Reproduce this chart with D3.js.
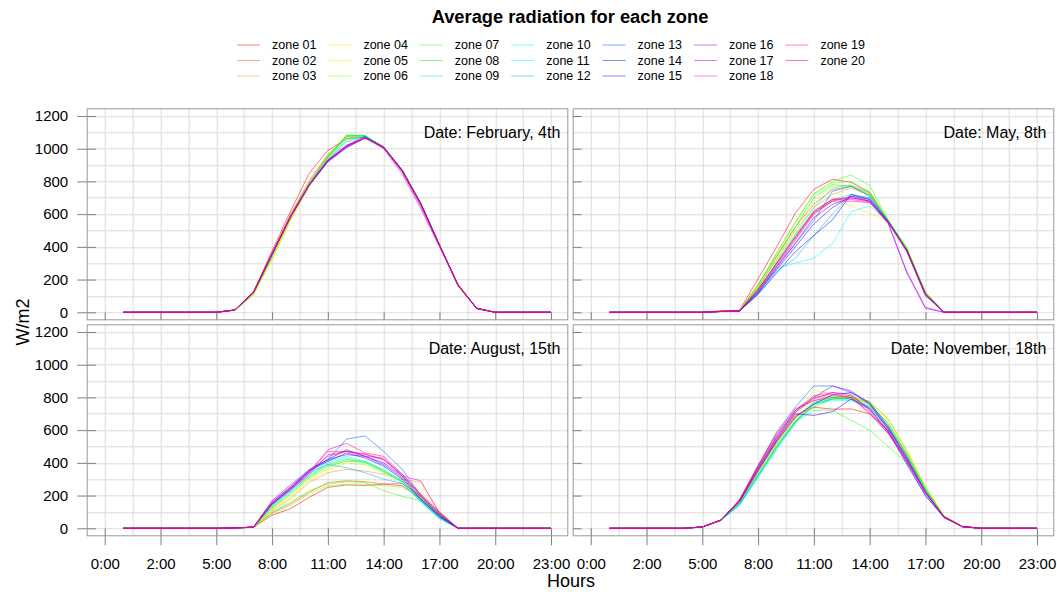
<!DOCTYPE html>
<html>
<head>
<meta charset="utf-8">
<script src="https://cdn.jsdelivr.net/npm/d3@7"></script>
<style>
  body { margin: 0; background: #fff; }
  svg { font-family: "Liberation Sans", Arial, Helvetica, sans-serif; }
</style>
</head>
<body>
<div id="chart"></div>
<script>
var svgWidth = 1057, svgHeight = 592;

var zones = ["zone 01","zone 02","zone 03","zone 04","zone 05","zone 06","zone 07","zone 08","zone 09","zone 10",
             "zone 11","zone 12","zone 13","zone 14","zone 15","zone 16","zone 17","zone 18","zone 19","zone 20"];

// rainbow palette, one hue per zone
var zoneColors = ["#FF0000","#FF4D00","#FF9900","#FFE500","#CCFF00","#80FF00","#33FF00","#00FF19","#00FF66","#00FFB2",
                  "#00FFFF","#00B3FF","#0066FF","#001AFF","#3300FF","#7F00FF","#CC00FF","#FF00E6","#FF0099","#FF004D"];

var hourLabels = ["0:00","2:00","5:00","8:00","11:00","14:00","17:00","20:00","23:00"];
var dateLabels = ["Date: February, 4th","Date: May, 8th","Date: August, 15th","Date: November, 18th"];

// hourly average radiation (W/m2), hours 0:00..23:00, one row per zone
var feb = [
  [0,0,0,0,0,0,15,125,375,620,850,990,1060,1072,1005,860,660,410,170,25,0,0,0,0],
  [0,0,0,0,0,0,14,122,360,600,805,965,1070,1075,1008,862,662,412,168,25,0,0,0,0],
  [0,0,0,0,0,0,13,112,330,565,790,960,1065,1072,1008,865,665,412,165,24,0,0,0,0],
  [0,0,0,0,0,0,12,108,322,560,775,945,1075,1078,1010,868,666,414,164,23,0,0,0,0],
  [0,0,0,0,0,0,12,110,320,570,770,940,1070,1076,1010,870,668,415,162,22,0,0,0,0],
  [0,0,0,0,0,0,12,108,335,575,780,950,1080,1080,1012,872,668,415,160,20,0,0,0,0],
  [0,0,0,0,0,0,13,115,345,590,790,955,1082,1080,1012,870,666,412,162,22,0,0,0,0],
  [0,0,0,0,0,0,14,118,350,595,792,950,1083,1081,1012,870,665,412,164,23,0,0,0,0],
  [0,0,0,0,0,0,14,118,352,592,785,945,1075,1080,1010,868,664,410,165,24,0,0,0,0],
  [0,0,0,0,0,0,14,120,355,590,782,940,1060,1080,1010,866,664,410,166,24,0,0,0,0],
  [0,0,0,0,0,0,14,120,352,588,780,935,1050,1078,1008,866,662,410,166,24,0,0,0,0],
  [0,0,0,0,0,0,14,120,350,585,778,930,1040,1076,1006,864,662,410,166,24,0,0,0,0],
  [0,0,0,0,0,0,14,120,352,585,778,925,1020,1075,1005,862,660,408,166,24,0,0,0,0],
  [0,0,0,0,0,0,14,121,355,585,776,922,1010,1068,1008,866,662,410,167,24,0,0,0,0],
  [0,0,0,0,0,0,14,121,356,584,776,920,1005,1066,1008,866,662,410,167,24,0,0,0,0],
  [0,0,0,0,0,0,14,122,358,586,778,925,1015,1068,1010,868,664,410,167,24,0,0,0,0],
  [0,0,0,0,0,0,14,122,358,586,778,925,1012,1066,1006,860,645,405,166,24,0,0,0,0],
  [0,0,0,0,0,0,14,122,360,588,780,928,1015,1065,1000,845,632,402,166,24,0,0,0,0],
  [0,0,0,0,0,0,14,122,360,588,780,930,1020,1068,1008,864,660,410,167,24,0,0,0,0],
  [0,0,0,0,0,0,14,123,362,590,782,932,1018,1068,1010,866,664,412,168,25,0,0,0,0]
];

var may = [
  [0,0,0,0,0,0,10,12,205,400,605,752,813,795,730,560,385,118,0,0,0,0,0,0],
  [0,0,0,0,0,0,8,10,170,345,520,660,750,770,720,558,388,122,0,0,0,0,0,0],
  [0,0,0,0,0,0,6,8,150,320,500,640,720,760,715,560,385,120,0,0,0,0,0,0],
  [0,0,0,0,0,0,5,8,140,300,470,600,680,650,605,555,380,110,0,0,0,0,0,0],
  [0,0,0,0,0,0,5,8,150,330,520,680,770,775,720,560,390,115,0,0,0,0,0,0],
  [0,0,0,0,0,0,5,8,160,360,545,720,790,800,740,562,390,118,0,0,0,0,0,0],
  [0,0,0,0,0,0,5,8,165,365,550,725,800,840,775,565,395,120,0,0,0,0,0,0],
  [0,0,0,0,0,0,5,8,150,340,520,700,780,770,735,560,385,115,0,0,0,0,0,0],
  [0,0,0,0,0,0,5,8,120,300,470,620,690,720,700,555,380,112,0,0,0,0,0,0],
  [0,0,0,0,0,0,5,8,130,310,480,640,760,780,720,556,380,110,0,0,0,0,0,0],
  [0,0,0,0,0,0,3,5,130,268,300,330,421,615,650,550,378,105,0,0,0,0,0,0],
  [0,0,0,0,0,0,5,8,110,250,330,470,600,720,700,555,380,108,0,0,0,0,0,0],
  [0,0,0,0,0,0,5,8,115,280,420,560,740,770,710,555,378,110,0,0,0,0,0,0],
  [0,0,0,0,0,0,5,8,110,240,370,470,565,720,690,555,380,110,0,0,0,0,0,0],
  [0,0,0,0,0,0,5,8,120,260,400,540,640,710,690,550,375,108,0,0,0,0,0,0],
  [0,0,0,0,0,0,5,8,125,270,420,580,660,700,680,545,240,24,0,0,0,0,0,0],
  [0,0,0,0,0,0,5,8,130,280,440,600,680,710,680,540,250,30,0,0,0,0,0,0],
  [0,0,0,0,0,0,5,8,140,300,460,620,690,690,675,548,370,100,0,0,0,0,0,0],
  [0,0,0,0,0,0,5,8,135,290,450,610,680,680,670,550,372,105,0,0,0,0,0,0],
  [0,0,0,0,0,0,5,8,140,300,460,610,690,700,680,552,378,110,0,0,0,0,0,0]
];

var aug = [
  [0,0,0,0,0,0,2,6,80,120,190,250,265,262,270,260,180,70,0,0,0,0,0,0],
  [0,0,0,0,0,0,2,6,95,150,220,280,290,285,270,275,195,80,0,0,0,0,0,0],
  [0,0,0,0,0,0,2,7,110,180,280,340,360,350,330,300,280,100,0,0,0,0,0,0],
  [0,0,0,0,0,0,2,7,120,200,300,370,420,400,350,280,200,90,0,0,0,0,0,0],
  [0,0,0,0,0,0,2,7,115,190,290,360,400,390,340,290,230,100,0,0,0,0,0,0],
  [0,0,0,0,0,0,2,6,90,140,210,260,270,270,260,250,190,80,0,0,0,0,0,0],
  [0,0,0,0,0,0,2,6,100,160,230,270,285,280,230,195,170,75,0,0,0,0,0,0],
  [0,0,0,0,0,0,2,7,125,210,310,380,410,405,360,285,180,80,0,0,0,0,0,0],
  [0,0,0,0,0,0,2,7,130,220,320,390,420,410,350,290,170,70,0,0,0,0,0,0],
  [0,0,0,0,0,0,2,7,135,225,320,400,430,400,345,285,165,65,0,0,0,0,0,0],
  [0,0,0,0,0,0,2,7,140,230,330,410,440,410,350,280,160,60,0,0,0,0,0,0],
  [0,0,0,0,0,0,2,7,145,235,340,390,370,340,300,275,165,60,0,0,0,0,0,0],
  [0,0,0,0,0,0,2,7,150,240,350,420,545,565,470,360,200,80,0,0,0,0,0,0],
  [0,0,0,0,0,0,2,7,150,245,350,410,460,430,380,300,175,70,0,0,0,0,0,0],
  [0,0,0,0,0,0,2,7,160,255,355,420,480,440,390,310,180,75,0,0,0,0,0,0],
  [0,0,0,0,0,0,2,7,170,265,360,420,450,440,400,320,190,85,0,0,0,0,0,0],
  [0,0,0,0,0,0,2,7,160,250,350,440,470,450,420,330,200,90,0,0,0,0,0,0],
  [0,0,0,0,0,0,2,7,155,245,345,470,470,440,430,320,290,90,0,0,0,0,0,0],
  [0,0,0,0,0,0,2,7,150,240,340,480,520,460,440,330,210,100,0,0,0,0,0,0],
  [0,0,0,0,0,0,2,7,145,235,330,450,470,455,420,320,200,95,0,0,0,0,0,0]
];

var nov = [
  [0,0,0,0,0,8,50,170,360,540,690,740,728,730,700,600,440,230,70,10,0,0,0,0],
  [0,0,0,0,0,8,50,165,350,530,680,760,790,800,740,620,450,240,72,10,0,0,0,0],
  [0,0,0,0,0,8,50,160,345,520,670,780,800,810,760,640,460,245,75,10,0,0,0,0],
  [0,0,0,0,0,8,50,165,360,550,700,845,820,800,770,670,470,255,78,11,0,0,0,0],
  [0,0,0,0,0,8,50,160,350,530,690,800,810,790,780,660,480,250,75,10,0,0,0,0],
  [0,0,0,0,0,8,48,150,330,510,660,760,790,810,770,670,475,250,70,10,0,0,0,0],
  [0,0,0,0,0,8,48,145,320,500,650,720,723,660,600,500,400,230,65,9,0,0,0,0],
  [0,0,0,0,0,8,48,150,330,505,655,740,790,800,760,640,450,240,68,10,0,0,0,0],
  [0,0,0,0,0,8,48,148,325,500,650,750,800,790,750,630,445,238,70,10,0,0,0,0],
  [0,0,0,0,0,8,48,145,320,495,645,760,790,785,740,620,440,235,70,10,0,0,0,0],
  [0,0,0,0,0,8,48,140,310,480,640,760,780,780,730,610,430,230,70,10,0,0,0,0],
  [0,0,0,0,0,8,48,145,320,490,650,770,800,790,740,610,430,230,70,10,0,0,0,0],
  [0,0,0,0,0,8,50,170,380,590,740,870,870,830,760,600,400,200,65,9,0,0,0,0],
  [0,0,0,0,0,8,50,160,350,530,680,760,815,830,770,620,430,220,68,10,0,0,0,0],
  [0,0,0,0,0,8,50,165,360,540,700,690,713,790,730,590,390,200,66,9,0,0,0,0],
  [0,0,0,0,0,8,50,170,370,560,720,800,870,840,760,610,420,220,70,10,0,0,0,0],
  [0,0,0,0,0,8,50,165,365,550,710,790,830,820,720,590,410,215,68,10,0,0,0,0],
  [0,0,0,0,0,8,50,170,370,560,710,800,820,800,710,580,410,215,68,10,0,0,0,0],
  [0,0,0,0,0,8,50,172,380,570,720,810,830,810,730,590,420,220,70,10,0,0,0,0],
  [0,0,0,0,0,8,50,175,385,580,730,780,810,800,700,580,415,220,70,10,0,0,0,0]
];

var panelW = 481.6, panelH = 212;
var panels = [
  {label: dateLabels[0], rows: feb, left: 86.7,  top: 108.3, col: 0, row: 0},
  {label: dateLabels[1], rows: may, left: 572.7, top: 108.3, col: 1, row: 0},
  {label: dateLabels[2], rows: aug, left: 86.7,  top: 324.3, col: 0, row: 1},
  {label: dateLabels[3], rows: nov, left: 572.7, top: 324.3, col: 1, row: 1}
];

// x = 1 is 0:00, x = 24 is 23:00
var x = d3.scaleLinear().domain([-0.97, 24.93]).range([0, panelW]);
var y = d3.scaleLinear().domain([-49, 1247]).range([panelH, 0]);

var line = d3.line()
    .x(function(d, i) { return x(i + 1); })
    .y(function(d) { return y(d); });

var svg = d3.select("#chart").append("svg")
    .attr("width", svgWidth)
    .attr("height", svgHeight);

svg.append("text")
    .attr("x", 570).attr("y", 23)
    .attr("text-anchor", "middle")
    .attr("font-size", 18.3)
    .attr("font-weight", "bold")
    .text("Average radiation for each zone");

// legend, 3 rows filled column by column
var legend = svg.append("g");
zones.forEach(function(z, i) {
    var tx = 272 + Math.floor(i / 3) * 91.4,
        ty = 45 + (i % 3) * 15.5;
    legend.append("line")
        .attr("x1", tx - 35).attr("x2", tx - 12)
        .attr("y1", ty).attr("y2", ty)
        .attr("stroke", zoneColors[i])
        .attr("stroke-opacity", 0.5);
    legend.append("text")
        .attr("x", tx).attr("y", ty)
        .attr("dy", "0.35em")
        .attr("font-size", 12.5)
        .text(z);
});

var tickColor = "#808080";

panels.forEach(function(p, k) {
    var g = svg.append("g").attr("transform", "translate(" + p.left + "," + p.top + ")");

    g.append("clipPath").attr("id", "clip" + k)
      .append("rect").attr("width", panelW).attr("height", panelH);

    var grid = g.append("g").attr("clip-path", "url(#clip" + k + ")");
    grid.selectAll(".vgrid")
        .data(d3.range(-1.5, 26, 1.5))
      .enter().append("line")
        .attr("x1", function(d) { return Math.round(x(d)) + 0.5; })
        .attr("x2", function(d) { return Math.round(x(d)) + 0.5; })
        .attr("y1", 0).attr("y2", panelH)
        .attr("stroke", "#b8b8b8")
        .attr("stroke-dasharray", "1,1");
    grid.selectAll(".hgrid")
        .data(d3.range(0, 1300, 100))
      .enter().append("line")
        .attr("y1", function(d) { return Math.round(y(d)) + 0.5; })
        .attr("y2", function(d) { return Math.round(y(d)) + 0.5; })
        .attr("x1", 0).attr("x2", panelW)
        .attr("stroke", "#b8b8b8")
        .attr("stroke-dasharray", "1,1");

    // y ticks: left column crosses the border and carries labels
    var yAxis = d3.axisLeft(y).tickValues(d3.range(0, 1201, 200)).tickFormat(d3.format("d"));
    var yg;
    if (p.col == 0) {
        yg = g.append("g").attr("transform", "translate(9.5,0)")
            .call(yAxis.tickSizeInner(19).tickSizeOuter(0).tickPadding(9));
    } else {
        yg = g.append("g").attr("transform", "translate(9,0)")
            .call(yAxis.tickSizeInner(9).tickSizeOuter(0).tickFormat(""));
    }

    // x ticks: bottom row crosses the border and carries labels
    var xAxis = d3.axisBottom(x).tickValues(d3.range(0, 25, 3));
    var xg;
    if (p.row == 1) {
        xg = g.append("g").attr("transform", "translate(0," + (panelH - 8) + ")")
            .call(xAxis.tickSizeInner(17).tickSizeOuter(0).tickPadding(13)
                .tickFormat(function(d, i) { return hourLabels[i]; }));
    } else {
        xg = g.append("g").attr("transform", "translate(0," + (panelH - 8) + ")")
            .call(xAxis.tickSizeInner(8).tickSizeOuter(0).tickFormat(""));
    }

    [yg, xg].forEach(function(a) {
        a.select(".domain").remove();
        a.selectAll("line").attr("stroke", tickColor);
        a.selectAll("text").attr("font-size", 15).attr("fill", "#000")
            .attr("font-family", "Liberation Sans, Arial, sans-serif");
    });

    g.append("g").attr("clip-path", "url(#clip" + k + ")")
      .selectAll("path")
        .data(p.rows)
      .enter().append("path")
        .attr("fill", "none")
        .attr("stroke", function(d, i) { return zoneColors[i]; })
        .attr("stroke-opacity", 0.55)
        .attr("stroke-width", 1)
        .attr("d", line);

    g.append("rect")
        .attr("x", 0.5).attr("y", 0.5)
        .attr("width", panelW - 1).attr("height", panelH - 1)
        .attr("fill", "none")
        .attr("stroke", "#999");

    g.append("text")
        .attr("x", panelW - 8).attr("y", 30)
        .attr("text-anchor", "end")
        .attr("font-size", 16)
        .text(p.label);
});

svg.append("text")
    .attr("transform", "translate(29,322) rotate(-90)")
    .attr("text-anchor", "middle")
    .attr("font-size", 18)
    .text("W/m2");

svg.append("text")
    .attr("x", 571).attr("y", 587)
    .attr("text-anchor", "middle")
    .attr("font-size", 18)
    .text("Hours");
</script>
</body>
</html>
